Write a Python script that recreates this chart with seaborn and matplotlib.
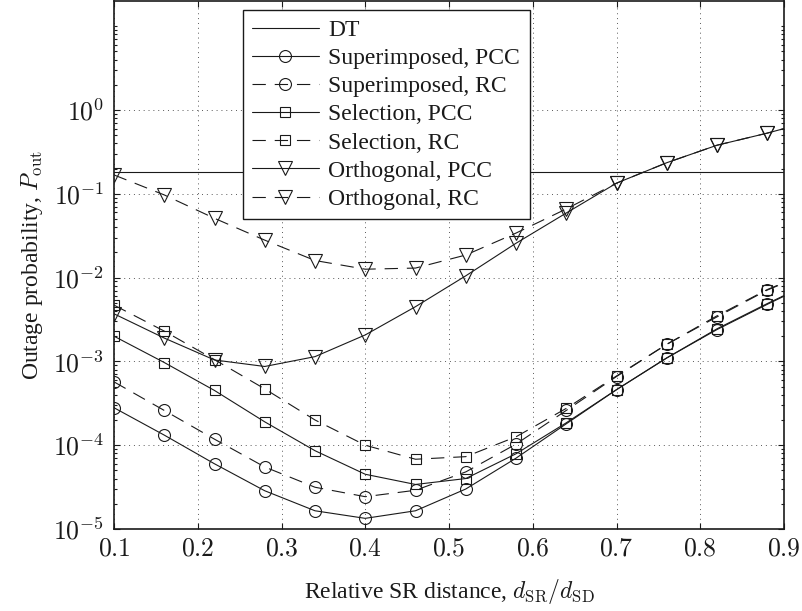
import matplotlib
matplotlib.use("Agg")
import matplotlib.pyplot as plt
from matplotlib.lines import Line2D
from matplotlib.ticker import FixedLocator, FixedFormatter, NullFormatter
import seaborn as sns

# Relative source-relay distance d_SR/d_SD (simulation points; last entry is the curve end)
dist = [0.10, 0.16, 0.22, 0.28, 0.34, 0.40, 0.46, 0.52, 0.58, 0.64, 0.70, 0.76, 0.82, 0.88, 0.90]

# Outage probability per scheme
dt_dist = [0.10, 0.90]
dt_pout = [0.18, 0.18]
sup_pcc = [2.8e-4, 1.32e-4, 6.0e-5, 2.86e-5, 1.65e-5, 1.34e-5, 1.65e-5, 3.0e-5, 7.0e-5,
           1.8e-4, 4.6e-4, 1.1e-3, 2.4e-3, 4.8e-3, 6.0e-3]
sup_rc = [5.7e-4, 2.6e-4, 1.18e-4, 5.5e-5, 3.15e-5, 2.43e-5, 2.9e-5, 4.8e-5, 1.03e-4,
          2.6e-4, 6.6e-4, 1.6e-3, 3.4e-3, 7.1e-3, 8.6e-3]
sel_pcc = [2.0e-3, 9.7e-4, 4.5e-4, 1.9e-4, 8.6e-5, 4.5e-5, 3.4e-5, 4.0e-5, 7.9e-5,
           1.85e-4, 4.6e-4, 1.1e-3, 2.45e-3, 4.9e-3, 6.1e-3]
sel_rc = [4.7e-3, 2.3e-3, 1.05e-3, 4.7e-4, 2.0e-4, 1.0e-4, 6.8e-5, 7.3e-5, 1.26e-4,
          2.75e-4, 6.7e-4, 1.6e-3, 3.5e-3, 7.2e-3, 8.7e-3]
orth_pcc = [3.7e-3, 1.9e-3, 1.04e-3, 8.7e-4, 1.14e-3, 2.07e-3, 4.5e-3, 1.05e-2, 2.57e-2,
            5.9e-2, 0.134, 0.235, 0.38, 0.53, 0.60]
orth_rc = [0.168, 0.097, 0.051, 0.028, 0.016, 0.0126, 0.013, 0.0186, 0.034,
           0.066, 0.134, 0.235, 0.38, 0.53, 0.60]

labels = ["DT", "Superimposed, PCC", "Superimposed, RC", "Selection, PCC",
          "Selection, RC", "Orthogonal, PCC", "Orthogonal, RC"]

xtick_vals = [0.1, 0.2, 0.3, 0.4, 0.5, 0.6, 0.7, 0.8, 0.9]
xtick_text = ["$0.1$", "$0.2$", "$0.3$", "$0.4$", "$0.5$", "$0.6$", "$0.7$", "$0.8$", "$0.9$"]
ytick_vals = [1e-5, 1e-4, 1e-3, 1e-2, 1e-1, 1e0]
ytick_text = ["$10^{-5}$", "$10^{-4}$", "$10^{-3}$", "$10^{-2}$", "$10^{-1}$", "$10^{0}$"]

sns.set_theme(style="ticks")
plt.rcParams["font.family"] = ["Liberation Serif", "DejaVu Serif"]
plt.rcParams["mathtext.fontset"] = "cm"
plt.rcParams["axes.edgecolor"] = "black"

FS = 17
TICK_FS = 18.5
LW = 0.8
DASH = (0, (12, 8))

fig = plt.figure(figsize=(8.02, 6.11), dpi=100)
ax = fig.add_axes([114 / 802, 82 / 611, 670 / 802, 528 / 611])
ax.set_facecolor("white")

# Direct transmission reference
sns.lineplot(x=dt_dist, y=dt_pout, ax=ax, color="k", linewidth=LW,
             estimator=None, sort=False, legend=False)

series = [
    (sup_pcc, "o", "-", 8.6),
    (sup_rc, "o", DASH, 8.6),
    (sel_pcc, "s", "-", 6.5),
    (sel_rc, "s", DASH, 6.5),
    (orth_pcc, "v", "-", 9.5),
    (orth_rc, "v", DASH, 9.5),
]
handles = [Line2D([], [], color="k", lw=LW)]
for vals, mk, ls, ms in series:
    sns.lineplot(x=dist, y=vals, ax=ax, color="k", linewidth=LW, linestyle=ls,
                 marker=mk, markersize=ms, markerfacecolor="none",
                 markeredgecolor="k", markeredgewidth=LW,
                 markevery=slice(0, len(dist) - 1),
                 estimator=None, sort=False, legend=False)
    handles.append(Line2D([], [], color="k", lw=LW, linestyle=ls, marker=mk,
                          markersize=ms, markerfacecolor="none",
                          markeredgecolor="k", markeredgewidth=LW))

ax.set_yscale("log")
ax.set_xlim(0.1, 0.9)
ax.set_ylim(1e-5, 20)

ax.xaxis.set_major_locator(FixedLocator(xtick_vals))
ax.xaxis.set_major_formatter(FixedFormatter(xtick_text))
ax.yaxis.set_major_locator(FixedLocator(ytick_vals))
ax.yaxis.set_major_formatter(FixedFormatter(ytick_text))
minor = [m * 10.0 ** e for e in range(-5, 1) for m in range(2, 10)] + [10.0]
ax.yaxis.set_minor_locator(FixedLocator(minor))
ax.yaxis.set_minor_formatter(NullFormatter())

ax.tick_params(which="both", direction="in", top=True, right=True,
               color="k", width=0.8, labelsize=TICK_FS, labelcolor="k")
ax.tick_params(which="major", length=4.5)
ax.tick_params(which="minor", length=2.2)
ax.tick_params(axis="x", pad=7)
ax.tick_params(axis="y", pad=7)

ax.grid(True, which="major", linestyle=(0, (1, 4)), color="0.35", linewidth=0.7)
ax.grid(False, which="minor")
ax.set_axisbelow(True)
for sp in ax.spines.values():
    sp.set_linewidth(1.2)
    sp.set_color("k")

ax.set_xlabel(r"Relative SR distance, $d_{\mathrm{SR}}/d_{\mathrm{SD}}$",
              fontsize=FS, color="k", labelpad=12)
ax.set_ylabel(r"Outage probability, $P_{\mathrm{out}}$", fontsize=FS, color="k",
              labelpad=6)

leg = ax.legend(handles, labels, loc="upper left", bbox_to_anchor=(0.1925, 0.983),
                fontsize=FS, frameon=True, fancybox=False, framealpha=1,
                edgecolor="k", borderpad=0.4, labelspacing=0.28,
                handlelength=2.8, handletextpad=0.42, borderaxespad=0)
leg.get_frame().set_linewidth(1.0)
for t in leg.get_texts():
    t.set_color("k")

fig.savefig("out.png", dpi=100, facecolor="white")
